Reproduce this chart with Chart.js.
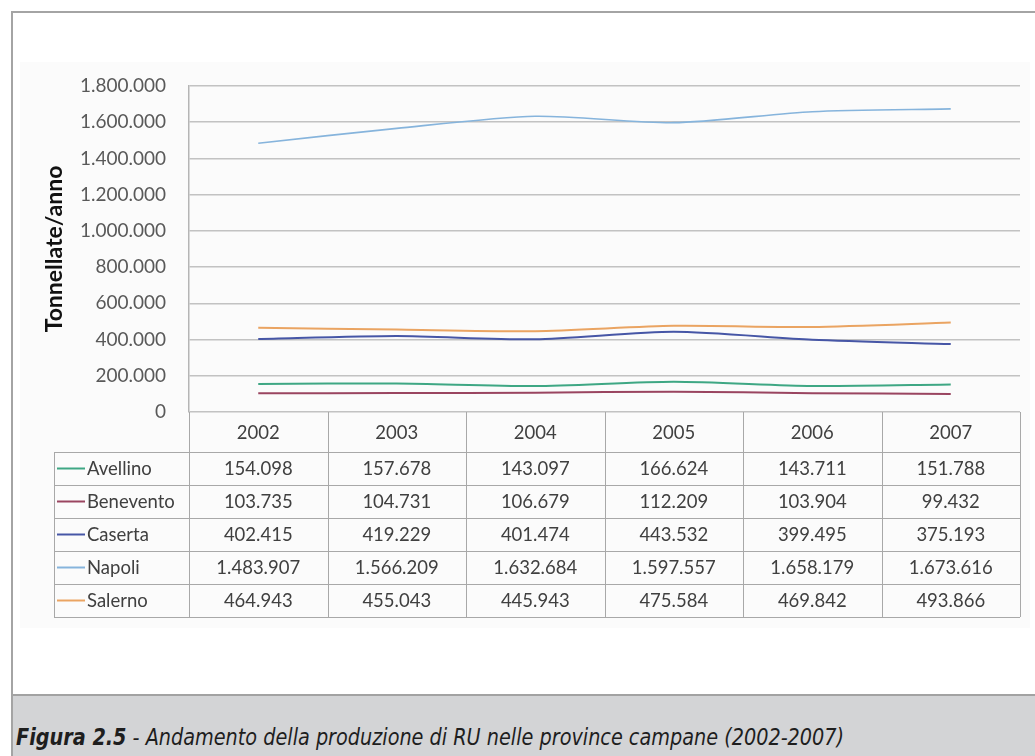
<!DOCTYPE html>
<html lang="it">
<head>
<meta charset="UTF-8">
<title>Produzione RU province campane</title>
<style>
  body { margin: 0; width: 1035px; height: 756px; overflow: hidden; position: relative; background: #fff; }
  #cornice { position: absolute; left: 11px; top: 11px; width: 1040px; height: 760px; border-left: 2px solid #a4a4a4; border-top: 2px solid #a4a4a4; }
  #box { position: absolute; left: 0; top: 0; width: 1035px; height: 690px; }
  #didascalia { position: absolute; left: 13px; top: 694px; right: 0; bottom: 0; background: #d3d4d6; border-top: 2px solid #a2a2a2; }
  #didascalia span { position: absolute; left: 3px; top: 28px; white-space: nowrap; transform-origin: 0 0; transform: scaleX(0.93);
    font-family: "Liberation Sans Narrow", "DejaVu Sans Condensed", sans-serif; font-style: italic; font-size: 23px; color: #1e1e1e; }
  #didascalia b { font-weight: bold; }
</style>
</head>
<body>

<div id="cornice"></div>
<div id="box"><canvas id="grafico"></canvas></div>
<div id="didascalia"><span><b>Figura 2.5</b> - Andamento della produzione di RU nelle province campane (2002-2007)</span></div>

<script src="https://cdn.jsdelivr.net/npm/chart.js@4/dist/chart.umd.min.js"></script>
<script>
// tonnellate/anno per provincia
var anni = ['2002', '2003', '2004', '2005', '2006', '2007'];
var avellino  = [154098, 157678, 143097, 166624, 143711, 151788];
var benevento = [103735, 104731, 106679, 112209, 103904, 99432];
var caserta   = [402415, 419229, 401474, 443532, 399495, 375193];
var napoli    = [1483907, 1566209, 1632684, 1597557, 1658179, 1673616];
var salerno   = [464943, 455043, 445943, 475584, 469842, 493866];

var province = ['Avellino', 'Benevento', 'Caserta', 'Napoli', 'Salerno'];
var colori = ['#3fa784', '#9a4560', '#4656a6', '#86b4dc', '#eaa462'];
var serie = [avellino, benevento, caserta, napoli, salerno];

var FONT = 'Lato, "Noto Sans", sans-serif';
var TESTO = '#404040';
var LINEA = '#a8a8a8';

function puntini(v) {
    return String(v).replace(/\B(?=(\d{3})+(?!\d))/g, '.');
}

// sfondo leggermente grigio dell'area del grafico
var sfondo = {
    id: 'sfondo',
    beforeDraw: function(chart) {
        var ctx = chart.ctx;
        ctx.save();
        ctx.fillStyle = '#fbfbfb';
        ctx.fillRect(20, 62, 1010, 566);
        ctx.restore();
    }
};

// tabella dati sotto l'asse x, colonne allineate alle categorie
var tabella = {
    id: 'tabella',
    afterDraw: function(chart) {
        var ctx = chart.ctx;
        var a = chart.chartArea;
        var x = chart.scales.x;
        var colW = a.width / anni.length;
        var top = a.bottom;
        var headH = 40, rowH = 33, sx = 54;
        var bottom = top + headH + rowH * province.length;

        ctx.save();
        ctx.strokeStyle = LINEA;
        ctx.lineWidth = 1;
        ctx.beginPath();
        // righe orizzontali
        for (var r = 0; r <= province.length; r++) {
            var y = Math.round(top + headH + r * rowH) + 0.5;
            ctx.moveTo(sx, y); ctx.lineTo(a.right, y);
        }
        // colonne
        for (var c = 0; c <= anni.length; c++) {
            var cx = Math.round(a.left + c * colW) + 0.5;
            ctx.moveTo(cx, top); ctx.lineTo(cx, bottom);
        }
        ctx.moveTo(sx + 0.5, top + headH); ctx.lineTo(sx + 0.5, bottom);
        ctx.stroke();

        ctx.font = '18.5px ' + FONT;
        ctx.fillStyle = TESTO;
        ctx.textAlign = 'center';
        ctx.textBaseline = 'middle';
        anni.forEach(function(anno, i) {
            ctx.fillText(anno, x.getPixelForValue(i), top + headH / 2 + 1);
        });

        province.forEach(function(nome, r) {
            var cy = top + headH + r * rowH + rowH / 2 + 1;
            ctx.strokeStyle = colori[r];
            ctx.lineWidth = 2;
            ctx.beginPath();
            ctx.moveTo(sx + 3, cy - 1); ctx.lineTo(sx + 31, cy - 1);
            ctx.stroke();
            ctx.textAlign = 'left';
            ctx.fillText(nome, sx + 33, cy);
            ctx.textAlign = 'center';
            serie[r].forEach(function(v, i) {
                ctx.fillText(puntini(v), x.getPixelForValue(i), cy);
            });
        });
        ctx.restore();
    }
};

var ctx = document.getElementById('grafico').getContext('2d');
var chart = new Chart(ctx, {
    type: 'line',
    data: {
        labels: anni,
        datasets: province.map(function(nome, i) {
            return {
                label: nome,
                data: serie[i],
                borderColor: colori[i],
                backgroundColor: colori[i],
                borderWidth: i == 3 ? 1.6 : 2,
                pointRadius: 0,
                tension: 0.25
            };
        })
    },
    options: {
        responsive: true,
        maintainAspectRatio: false,
        animation: false,
        layout: { padding: { left: 40, right: 15, top: 86, bottom: 278 } },
        plugins: {
            legend: { display: false },
            tooltip: { enabled: false }
        },
        scales: {
            x: {
                display: false,
                offset: true
            },
            y: {
                min: 0,
                max: 1800000,
                afterFit: function(s) { s.width = 149; },
                ticks: {
                    stepSize: 200000,
                    padding: 23,
                    color: '#595959',
                    font: { family: FONT, size: 19 },
                    callback: function(v) { return puntini(v); }
                },
                grid: { color: '#c2c2c2', lineWidth: 1.5, drawTicks: false },
                border: { display: true, color: '#b5b5b5', width: 1.5 },
                title: {
                    display: true,
                    text: 'Tonnellate/anno',
                    color: '#111',
                    padding: { top: 1, bottom: 4 },
                    font: { family: FONT, size: 23, weight: 'bold' }
                }
            }
        }
    },
    plugins: [sfondo, tabella]
});
</script>
</body>
</html>
